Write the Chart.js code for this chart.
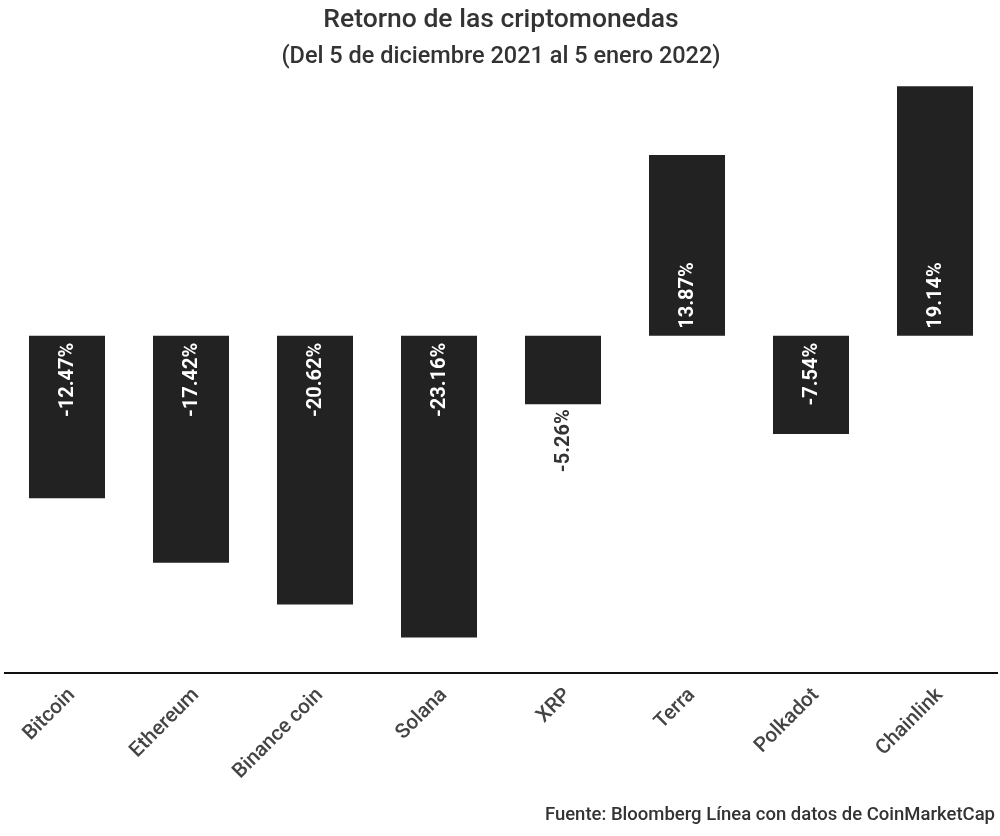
<!DOCTYPE html>
<html>
<head>
<meta charset="utf-8">
<script src="https://cdn.jsdelivr.net/npm/chart.js@4.4.1/dist/chart.umd.min.js"></script>
<style>
  html, body { margin: 0; padding: 0; background: #ffffff; }
  #wrap { width: 1000px; height: 836px; position: relative; }
</style>
</head>
<body>
<div id="wrap"><canvas id="c"></canvas></div>
<script>
const categories = ["Bitcoin", "Ethereum", "Binance coin", "Solana", "XRP", "Terra", "Polkadot", "Chainlink"];
const returns = [-12.47, -17.42, -20.62, -23.16, -5.26, 13.87, -7.54, 19.14];
const titleText = "Retorno de las criptomonedas";
const subtitleText = "(Del 5 de diciembre 2021 al 5 enero 2022)";
const sourceNote = "Fuente: Bloomberg Línea con datos de CoinMarketCap";
const yMin = -25.9;
const yMax = 19.31;

const valueLabels = {
  id: 'valueLabels',
  afterDatasetsDraw(chart) {
    const ctx = chart.ctx;
    const meta = chart.getDatasetMeta(0);
    ctx.save();
    ctx.font = 'bold 20px Roboto';
    meta.data.forEach((bar, i) => {
      const v = returns[i];
      const txt = v.toFixed(2) + '%';
      const tw = ctx.measureText(txt).width;
      const len = Math.abs(bar.base - bar.y);
      const gap = 7;
      ctx.save();
      ctx.translate(bar.x, bar.base);
      ctx.rotate(-Math.PI / 2);
      ctx.textBaseline = 'middle';
      if (len > tw + gap * 2) {
        ctx.fillStyle = '#ffffff';
        if (v < 0) { ctx.textAlign = 'right'; ctx.fillText(txt, -gap, 1); }
        else { ctx.textAlign = 'left'; ctx.fillText(txt, gap, 1); }
      } else {
        ctx.fillStyle = '#333333';
        if (v < 0) { ctx.textAlign = 'right'; ctx.fillText(txt, -len - 5, 1); }
        else { ctx.textAlign = 'left'; ctx.fillText(txt, len + 5, 1); }
      }
      ctx.restore();
    });
    ctx.restore();
  }
};

const sourceFooter = {
  id: 'sourceFooter',
  afterDraw(chart) {
    const ctx = chart.ctx;
    ctx.save();
    ctx.font = '500 18.5px Roboto';
    ctx.fillStyle = '#333333';
    ctx.textAlign = 'right';
    ctx.textBaseline = 'middle';
    ctx.fillText(sourceNote, chart.width - 5, chart.height - 21);
    ctx.restore();
  }
};

new Chart(document.getElementById('c'), {
  type: 'bar',
  data: {
    labels: categories,
    datasets: [{
      data: returns,
      backgroundColor: '#222222',
      borderWidth: 0,
      barPercentage: 0.613,
      categoryPercentage: 1.0
    }]
  },
  options: {
    responsive: true,
    maintainAspectRatio: false,
    animation: false,
    layout: { padding: { left: 5, right: 3, top: 0, bottom: 42 } },
    plugins: {
      legend: { display: false },
      tooltip: { enabled: false },
      title: {
        display: true,
        text: titleText,
        color: '#333333',
        font: { family: 'Roboto', size: 26.5, weight: '500', lineHeight: 1.2 },
        padding: { top: 4, bottom: 3 }
      },
      subtitle: {
        display: true,
        text: subtitleText,
        color: '#333333',
        font: { family: 'Roboto', size: 23.5, weight: '500', lineHeight: 1.2 },
        padding: { top: 4, bottom: 13 }
      }
    },
    scales: {
      x: {
        grid: { display: false, drawTicks: false },
        border: { display: true, color: '#111111', width: 2 },
        ticks: {
          color: '#444444',
          font: { family: 'Roboto', size: 20.5, weight: '500' },
          maxRotation: 45,
          minRotation: 45,
          padding: 10,
          labelOffset: 5,
          autoSkip: false
        }
      },
      y: {
        display: false,
        min: yMin,
        max: yMax,
        grid: { display: false }
      }
    }
  },
  plugins: [valueLabels, sourceFooter]
});
</script>
</body>
</html>
